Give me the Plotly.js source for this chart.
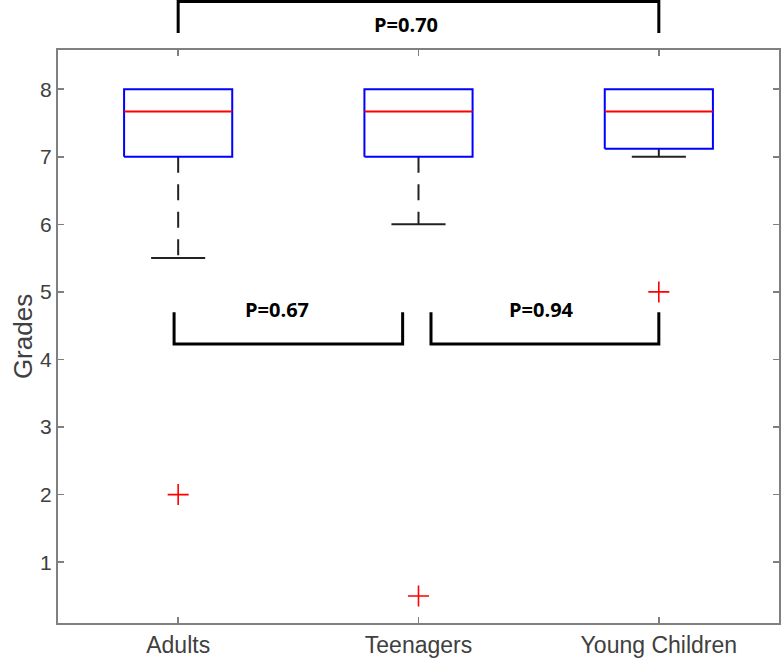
<!DOCTYPE html>
<html>
<head>
<meta charset="utf-8">
<script src="https://cdn.plot.ly/plotly-3.0.1.min.js"></script>
<style>html,body{margin:0;padding:0;background:#fff;}#chart{width:783px;height:660px;}</style>
</head>
<body>
<div id="chart"></div>
<script>
// Data
const categories = ["Adults", "Teenagers", "Young Children"];
const q1 = [7.0, 7.0, 7.12];
const median = [7.67, 7.67, 7.67];
const q3 = [8.0, 8.0, 8.0];
const lowerWhisker = [5.5, 6.0, 7.0];
const upperWhisker = [8.0, 8.0, 8.0];
const outliers = [2.0, 0.5, 5.0];
const pLabels = ["P=0.67", "P=0.94", "P=0.70"];

const pos = categories.map((c, i) => i + 1);
const hw = 0.225, cw = 0.1125;

const boxX = [], boxY = [], medX = [], medY = [], capX = [], capY = [];
pos.forEach((p, i) => {
  boxX.push(p - hw, p + hw, p + hw, p - hw, p - hw, null);
  boxY.push(q1[i], q1[i], q3[i], q3[i], q1[i], null);
  medX.push(p - hw, p + hw, null);
  medY.push(median[i], median[i], null);
  capX.push(p - cw, p + cw, null);
  capY.push(lowerWhisker[i], lowerWhisker[i], null);
});

const traces = [];
pos.forEach((p, i) => {
  traces.push({x: [p, p], y: [q1[i], lowerWhisker[i]], mode: 'lines', type: 'scatter',
    line: {color: '#222', width: 2, dash: '16px,11.5px'}, hoverinfo: 'skip', showlegend: false});
});
traces.push({x: capX, y: capY, mode: 'lines', type: 'scatter', line: {color: '#222', width: 2}, showlegend: false});
traces.push({x: boxX, y: boxY, mode: 'lines', type: 'scatter', line: {color: '#0000ff', width: 2}, showlegend: false});
traces.push({x: medX, y: medY, mode: 'lines', type: 'scatter', line: {color: '#ff0000', width: 2}, showlegend: false});
traces.push({x: pos, y: outliers, mode: 'markers', type: 'scatter',
  marker: {symbol: 'cross-thin', size: 15, line: {color: '#ff0000', width: 1.6}}, showlegend: false});

const bl = {color: '#000', width: 3};
const yTop = 4.70, yBot = 4.23;
const shapes = [
  {type: 'path', xref: 'x', yref: 'y', path: `M0.983,${yTop} L0.983,${yBot} L1.934,${yBot} L1.934,${yTop}`, line: bl},
  {type: 'path', xref: 'x', yref: 'y', path: `M2.052,${yTop} L2.052,${yBot} L3,${yBot} L3,${yTop}`, line: bl},
  {type: 'path', xref: 'x', yref: 'paper', path: `M1,1.0295 L1,1.0847 L3,1.0847 L3,1.0295`, line: bl}
];
const pfont = {family: 'Open Sans, sans-serif', size: 20, color: '#000', weight: 700};
const annotations = [
  {x: 1.411, y: 4.747, xref: 'x', yref: 'y', text: pLabels[0], showarrow: false, font: pfont, yanchor: 'middle'},
  {x: 2.512, y: 4.747, xref: 'x', yref: 'y', text: pLabels[1], showarrow: false, font: pfont, yanchor: 'middle'},
  {x: 1.948, y: 1.0445, xref: 'x', yref: 'paper', text: pLabels[2], showarrow: false, font: pfont, yanchor: 'middle'}
];

const axisCommon = {showline: true, linecolor: '#808080', linewidth: 2, mirror: 'allticks',
  ticks: 'inside', ticklen: 6, tickwidth: 1.5, tickcolor: '#808080', showgrid: false, zeroline: false,
  tickfont: {family: 'Liberation Sans, Arial, sans-serif', size: 21, color: '#404040'}};

const layout = {
  width: 783, height: 660,
  margin: {l: 58, r: 4, t: 50, b: 37},
  paper_bgcolor: '#fff', plot_bgcolor: '#fff',
  showlegend: false,
  xaxis: Object.assign({}, axisCommon, {range: [0.5, 3.5], tickvals: pos, ticktext: categories,
    tickfont: {family: 'Liberation Sans, Arial, sans-serif', size: 23, color: '#404040'}}),
  yaxis: Object.assign({}, axisCommon, {range: [0.1, 8.58], tickvals: [1,2,3,4,5,6,7,8],
    title: {text: 'Grades', font: {family: 'Liberation Sans, Arial, sans-serif', size: 26, color: '#404040'}, standoff: 0}}),
  shapes: shapes,
  annotations: annotations
};

Plotly.newPlot('chart', traces, layout, {displayModeBar: false, staticPlot: true});
</script>
</body>
</html>
